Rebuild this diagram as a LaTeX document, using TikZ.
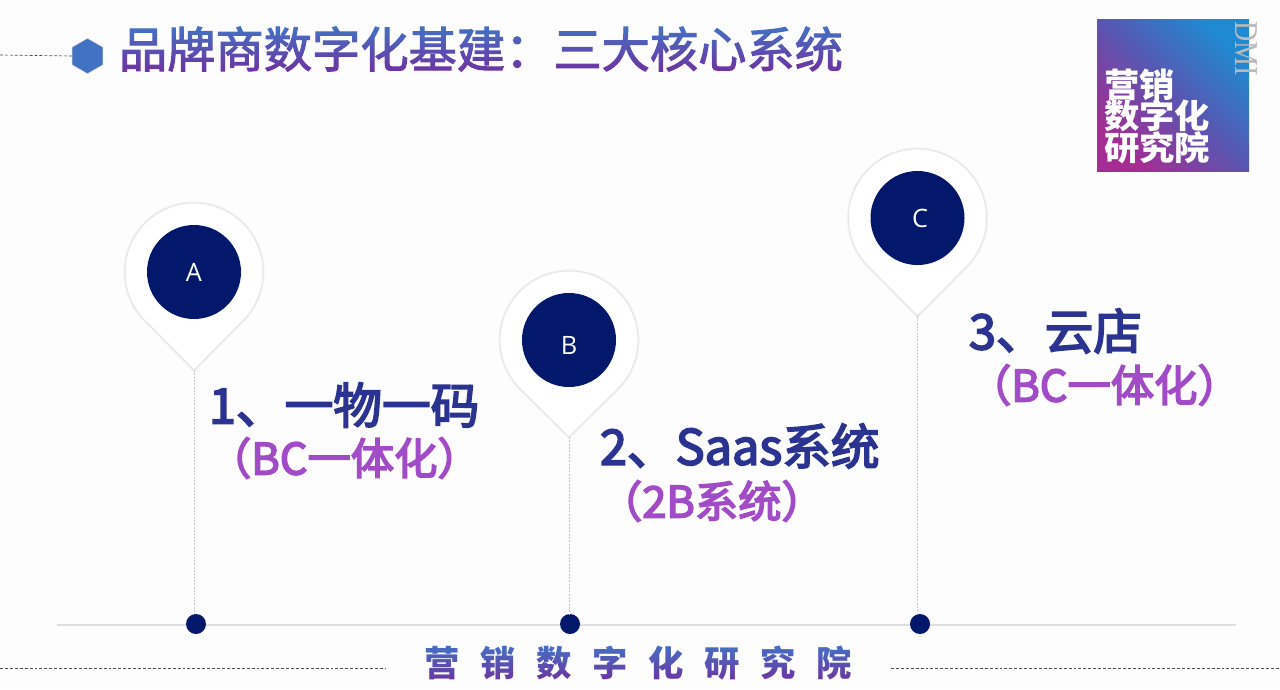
\documentclass[tikz,border=0pt]{standalone}
\usepackage{fontspec}
\setmainfont{Noto Sans CJK SC}
\newfontfamily\latinsans{Open Sans}
\newfontfamily\dmifont{Liberation Serif}
\newfontfamily\medcjk[FakeBold=2.2]{Noto Sans CJK SC}
\newfontfamily\headcjk[FakeBold=3.6]{Noto Sans CJK SC}
\usetikzlibrary{shapes.geometric,fadings}
\definecolor{navy}{HTML}{03176B}
\definecolor{labelblue}{HTML}{2B3390}
\definecolor{labelpurple}{HTML}{A24BC6}
\definecolor{gradtop}{HTML}{4272C4}
\definecolor{gradbot}{HTML}{7030A0}
\definecolor{rulegray}{HTML}{DEDEE2}
\definecolor{pagebg}{HTML}{FDFDFE}
\definecolor{logoA}{HTML}{A52C92}
\definecolor{logoB}{HTML}{5A55B0}
\definecolor{logoC}{HTML}{1F8AD2}
\newcommand{\lp}{^^^^ff08}
\newcommand{\rp}{^^^^ff09}
\newcommand{\fc}{^^^^ff1a}
\tikzset{
  x=0.75pt,y=-0.75pt,
  every node/.style={inner sep=0pt,outer sep=0pt},
  disc/.style={circle,fill=navy,minimum size=70.5pt,text=white,font=\latinsans\fontsize{19}{19}\selectfont},
  footdot/.style={circle,fill=navy,minimum size=15pt},
  stem/.style={draw=gray!45,line width=0.45pt,dash pattern=on 1.5pt off 1pt},
  pinhalo/.style={draw=gray!10,line width=2.4pt,fill=white},
  pinline/.style={draw=gray!20,line width=0.7pt,fill=white},
  heading/.style={font=\headcjk\fontsize{36.5}{36.5}\selectfont,text=labelblue,anchor=west},
  subhead/.style={font=\headcjk\fontsize{32.5}{32.5}\selectfont,text=labelpurple,anchor=west},
  dashrule/.style={draw=black!70,line width=0.5pt,dash pattern=on 2.2pt off 1.5pt},
  logotext/.style={font=\bfseries\fontsize{25}{25}\selectfont,text=white,anchor=west,xscale=1.06},
  titlefont/.style={font=\medcjk\fontsize{36.2}{36.2}\selectfont},
  footfont/.style={font=\bfseries\fontsize{26.5}{26.5}\selectfont},
}
\newcommand{\pinmark}[5]{%
  \begin{scope}[shift={(#2,#3)}]
    \path[pinhalo] (0,#4) -- (44.8:69) arc[start angle=44.8,end angle=-224.8,radius=69] -- cycle;
    \path[pinline] (0,#4) -- (44.8:69) arc[start angle=44.8,end angle=-224.8,radius=69] -- cycle;
    \coordinate (tip#1) at (0,#4);
    \node[disc] (disc#1) at (0,0) {#5};
  \end{scope}}
\newcommand{\foottext}{营\hspace{15.5pt}销\hspace{15.5pt}数\hspace{15.5pt}字\hspace{15.5pt}化\hspace{15.5pt}研\hspace{15.5pt}究\hspace{15.5pt}院}
\begin{tikzfadingfrompicture}[name=titlemask]
\node[titlefont,text=transparent!0] (titlemasktext) at (0,0) {品牌商数字化基建\fc 三大核心系统};
\end{tikzfadingfrompicture}
\begin{tikzfadingfrompicture}[name=footmask]
\node[footfont,text=transparent!0] (footmasktext) at (0,0) {\foottext};
\end{tikzfadingfrompicture}
\begin{document}
\begin{tikzpicture}
\useasboundingbox (0,0) rectangle (1280,689);
\fill[pagebg] (0,0) rectangle (1280,689);

% rules
\coordinate (ruleL) at (57,625);
\coordinate (ruleR) at (1236,625);
\draw[rulegray,line width=1.1pt] (ruleL) -- (ruleR);
\coordinate (topL) at (0,55);
\coordinate (botA) at (0,668);
\coordinate (botB) at (386,668);
\coordinate (botC) at (891,668);
\coordinate (botD) at (1280,668);
\draw[dashrule] (botA) -- (botB);
\draw[dashrule] (botC) -- (botD);

% hexagon
\node[regular polygon,regular polygon sides=6,shape border rotate=30,fill=gradtop,draw=gray!35,line width=0.4pt,minimum size=26.5pt] (hex) at (87.5,56) {};
\draw[dashrule] (topL) -- (hex.west);

% title, gradient
\shade[top color=gradtop,bottom color=gradbot,path fading=titlemask,fit fading=false,
  fading transform={shift={(481,49)}}] (115,26) rectangle (850,73);

% logo
\shade[bottom color=logoA,top color=logoC,middle color=logoB,shading angle=-45] (1097,19) rectangle (1249,171);
\node[logotext] (logoa) at (1104,85) {营销};
\node[logotext] (logob) at (1104,116) {数字化};
\node[logotext] (logoc) at (1104,148) {研究院};
\node[font=\dmifont\fontsize{25}{25}\selectfont,text=gray!55,rotate=-90,xscale=0.84] (dmi) at (1246,49) {DMI};

% pins
\pinmark{A}{194}{272}{98}{A}
\pinmark{B}{569}{340}{97}{\raisebox{-3.75pt}[\height][\depth]{B}}
\pinmark{C}{917.5}{218}{98}{\hspace*{4pt}C}

% foot dots
\node[footdot] (dotA) at (196,624) {};
\node[footdot] (dotB) at (570,624) {};
\node[footdot] (dotC) at (920,624) {};
\draw[stem] (tipA) -- (tipA |- dotA.north);
\draw[stem] (tipB) -- (tipB |- dotB.north);
\draw[stem] (tipC) -- (tipC |- dotC.north);

% labels
\node[heading] (la) at (209,405) {1、一物一码};
\node[subhead] (sa) at (208,458) {\lp BC一体化\rp};
\node[heading] (lb) at (600,446) {2、Saas系统};
\node[subhead] (sb) at (599,501) {\lp 2B系统\rp};
\node[heading] (lc) at (969,331) {3、云店};
\node[subhead] (sc) at (968,385) {\lp BC一体化\rp};

% footer, gradient
\shade[top color=gradtop,bottom color=gradbot,path fading=footmask,fit fading=false,
  fading transform={shift={(638,663)}}] (415,644) rectangle (862,683);
\end{tikzpicture}
\end{document}
